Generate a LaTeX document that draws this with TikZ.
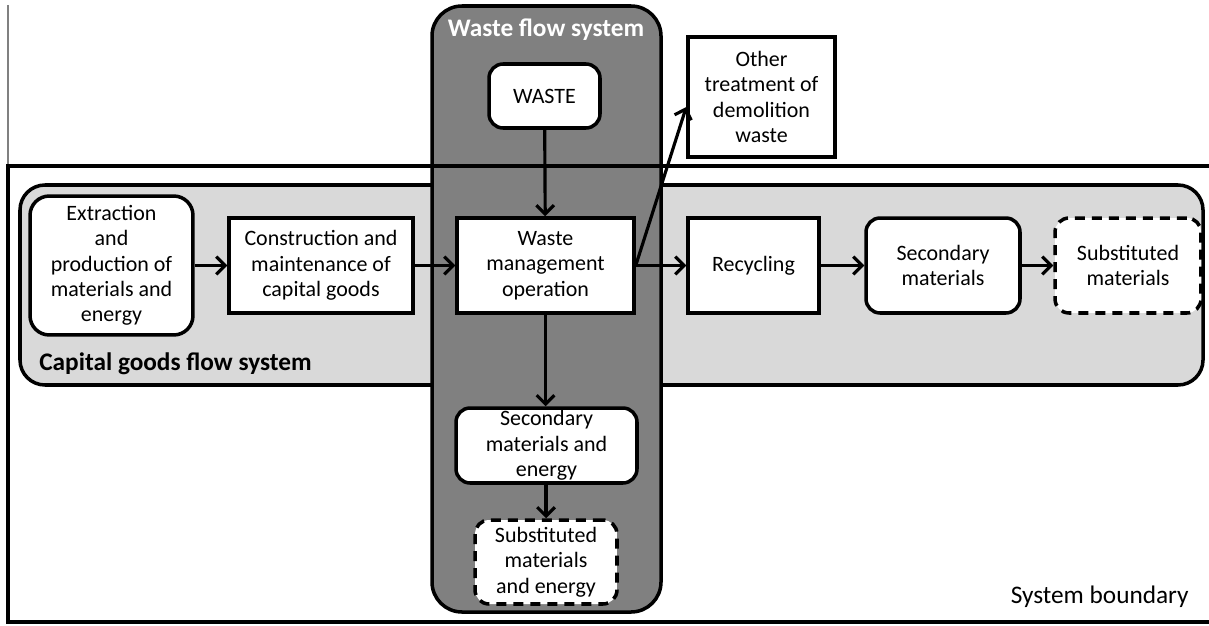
\documentclass[tikz,border=0pt]{standalone}
\usepackage{fontspec}
\setmainfont{Carlito}
\usetikzlibrary{arrows, arrows.meta}

\definecolor{capgray}{RGB}{217,217,217}
\definecolor{wastegray}{RGB}{128,128,128}

\begin{document}
\begin{tikzpicture}[x=0.02cm, y=-0.02cm]
  \tikzstyle{box}=[draw, fill=white, line width=2pt, inner sep=0pt, align=center,
                   font=\fontsize{12.5}{14.4}\selectfont]
  \tikzstyle{rbox}=[box, rounded corners=8pt]
  \tikzstyle{dashbox}=[rbox, dash pattern=on 0.2cm off 0.14cm]
  \tikzstyle{flow}=[-{Straight Barb[length=5pt, width=10pt, line width=1.8pt]}, line width=1.8pt]
  \tikzstyle{title}=[font=\fontsize{14.4}{17}\selectfont\bfseries, inner sep=0pt]

  \useasboundingbox (0,0) rectangle (1209,625);

  \filldraw[fill=capgray, line width=2pt, rounded corners=0.5cm] (20,185) rectangle (1203,385); % Capital goods region
  \filldraw[fill=wastegray, line width=2pt, rounded corners=0.6cm] (432,6) rectangle (661,612); % Waste flow region
  \draw[gray, line width=0.8pt] (8,5) -- (8,166); % Thin left line on top
  \draw[line width=2pt] (1209,166) -- (8,166) -- (8,622) -- (1209,622); % System boundary

  \node[title, white, anchor=base] (WT) at (546,37) {Waste flow system};
  \node[title, anchor=base west] (CT) at (39,370) {Capital goods flow system};
  \node[font=\fontsize{14.4}{17}\selectfont, inner sep=0pt, anchor=base east] (SB) at (1189,603) {System boundary};

  \node[rbox, rounded corners=11pt, minimum width=3.26cm, minimum height=2.78cm] (EP) at (111.5,265.5)
       {Extraction\\and\\production of\\materials and\\energy};
  \node[box, minimum width=3.68cm, minimum height=1.9cm] (CM) at (321,265.5)
       {Construction and\\maintenance of\\capital goods};
  \node[box, minimum width=3.54cm, minimum height=1.9cm] (WM) at (545.5,265.5)
       {Waste\\management\\operation};
  \node[box, minimum width=2.62cm, minimum height=1.9cm] (RC) at (753.5,265.5) {Recycling};
  \node[rbox, minimum width=3.08cm, minimum height=1.9cm] (SM) at (943,265.5) {Secondary\\materials};
  \node[dashbox, minimum width=2.92cm, minimum height=1.9cm] (SU) at (1128,265.5) {Substituted\\materials};
  \node[rbox, minimum width=2.22cm, minimum height=1.28cm] (W) at (544.5,96) {WASTE};
  \node[box, minimum width=2.94cm, minimum height=2.4cm] (OT) at (761.5,97)
       {Other\\treatment of\\demolition\\waste};
  \node[rbox, minimum width=3.62cm, minimum height=1.5cm] (SE) at (546.5,445.5)
       {Secondary\\materials and\\energy};
  \node[dashbox, minimum width=2.84cm, minimum height=1.68cm] (SS) at (546,562)
       {Substituted\\materials\\and energy};

  \draw[flow] (EP) -- (CM);
  \draw[flow] (CM) -- (WM);
  \draw[flow] (WM) -- (RC);
  \draw[flow] (RC) -- (SM);
  \draw[flow] (SM) -- (SU);
  \draw[flow] (W) -- (WM); % Waste down
  \draw[flow] (WM.south) -- (WM.south |- SE.north); % Down to secondary
  \draw[flow] (SE.south -| SS.north) -- (SS.north);
  \draw[flow] (WM.east) -- ([yshift=-0.2cm]OT.west); % Diagonal up
\end{tikzpicture}
\end{document}
